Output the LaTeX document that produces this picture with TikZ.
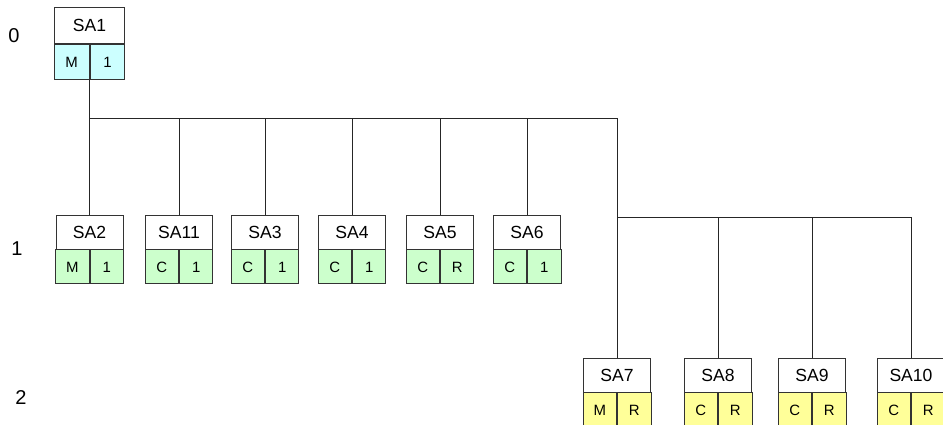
\documentclass[tikz,border=0pt]{standalone}
\usepackage{fontspec}
\setmainfont{Liberation Sans}
\usepackage{tikz}

\definecolor{cyancell}{RGB}{204,255,255}
\definecolor{greencell}{RGB}{204,255,204}
\definecolor{yellowcell}{RGB}{255,255,153}

\tikzset{
	unitname/.style={draw=black!80, line width=0.5pt, fill=white, minimum width=1.34cm, minimum height=0.68cm, inner sep=0pt, font=\fontsize{10}{12}\selectfont},
	unitcell/.style={draw=black!80, line width=0.5pt, minimum width=0.67cm, minimum height=0.68cm, inner sep=0pt, font=\fontsize{8.5}{10}\selectfont},
	levellabel/.style={inner sep=0pt, font=\fontsize{11.4}{13}\selectfont},
	wire/.style={line width=0.5pt, black!85}
}

\begin{document}
\begin{tikzpicture}[x=0.02cm,y=-0.02cm]
		\useasboundingbox (0,0) rectangle (943,425);
		% level numbers
		\foreach \l/\x/\y in {0/14/36, 1/17/249, 2/21/398}
			\node[levellabel] (lvl\l) at (\x,\y) {\l};
		% level 0
		\node[unitname, minimum width=1.4cm, minimum height=0.71cm] (sa1) at (89.5,25.5) {SA1};
		\node[unitcell, fill=cyancell, minimum width=0.7cm, minimum height=0.71cm, anchor=north east] (sa1a) at (sa1.south) {M};
		\node[unitcell, fill=cyancell, minimum width=0.7cm, minimum height=0.71cm, anchor=north west] (sa1b) at (sa1.south) {1};
		% level 1
		\foreach \n/\x/\a/\b in {2/89.5/M/1, 11/179/C/1, 3/265/C/1, 4/352/C/1, 5/440/C/R, 6/527/C/1} {
			\node[unitname] (sa\n) at (\x,232) {SA\n};
			\node[unitcell, fill=greencell, anchor=north east] (sa\n a) at (sa\n.south) {\a};
			\node[unitcell, fill=greencell, anchor=north west] (sa\n b) at (sa\n.south) {\b};
		}
		% level 2
		\foreach \n/\x/\a/\b in {7/617/M/R, 8/718/C/R, 9/812/C/R, 10/911/C/R} {
			\node[unitname] (sa\n) at (\x,375) {SA\n};
			\node[unitcell, fill=yellowcell, anchor=north east] (sa\n a) at (sa\n.south) {\a};
			\node[unitcell, fill=yellowcell, anchor=north west] (sa\n b) at (sa\n.south) {\b};
		}
		% buses
		\coordinate (bus1) at (89.5,118);
		\coordinate (bus2) at (617,217);
		\draw[wire] (sa1a.south east) -- (bus1) -- (bus1 -| sa7.north) -- (sa7.north);
		\foreach \n in {11,3,4,5,6}
			\draw[wire] (sa\n.north) -- (sa\n |- bus1);
		\draw[wire] (sa2.north) -- (bus1);
		\draw[wire] (bus2) -- (bus2 -| sa10.north);
		\foreach \n in {8,9,10}
			\draw[wire] (sa\n.north) -- (sa\n |- bus2);
\end{tikzpicture}
\end{document}
